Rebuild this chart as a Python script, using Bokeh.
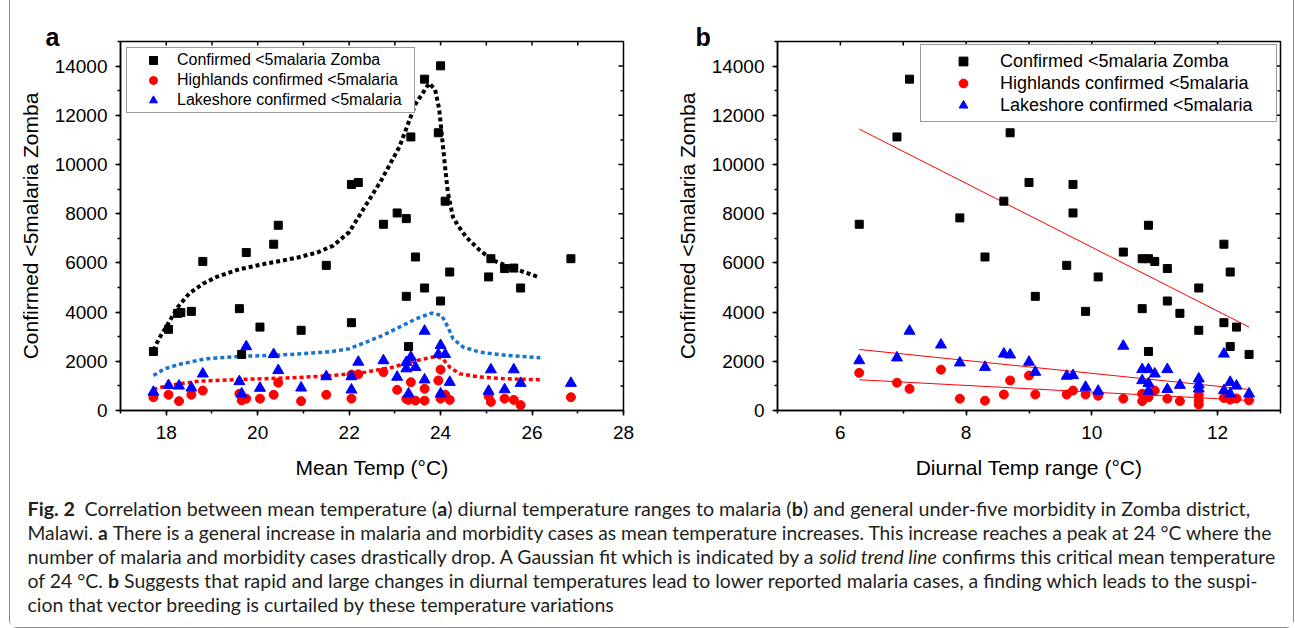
import os
import glob
from bokeh.plotting import figure
from bokeh.models import (Range1d, SingleIntervalTicker, Legend, LegendItem, ColumnDataSource)
from bokeh.layouts import column, row
from bokeh.core.properties import value
from bokeh.embed import file_html
from bokeh.resources import INLINE

# ---------------- data: panel a (mean temperature) ----------------
a_zomba_x = [17.72, 18.05, 18.25, 18.32, 18.55, 18.8, 19.6, 19.65, 19.75, 20.05, 20.35, 20.45,
             20.95, 21.5, 22.05, 22.05, 22.2, 22.75, 23.05, 23.25, 23.25, 23.3, 23.35, 23.45,
             23.65, 23.65, 23.95, 24.0, 24.0, 24.1, 24.2, 25.05, 25.1, 25.4, 25.6, 25.75, 26.85]
a_zomba_y = [2400, 3300, 3950, 3980, 4030, 6060, 4140, 2280, 6420, 3390, 6760, 7530,
             3260, 5900, 3570, 9190, 9270, 7570, 8030, 7800, 4640, 2600, 11120, 6240,
             4980, 13470, 11290, 14010, 4450, 8510, 5630, 5430, 6170, 5770, 5790, 4980, 6170]

a_high_x = [17.72, 18.05, 18.28, 18.55, 18.8, 19.6, 19.65, 19.75, 20.05, 20.35, 20.45, 20.95,
            21.5, 22.05, 22.05, 22.2, 22.75, 23.05, 23.25, 23.3, 23.35, 23.45, 23.65, 23.65,
            23.95, 24.0, 24.0, 24.1, 24.2, 25.05, 25.1, 25.4, 25.6, 25.75, 26.85]
a_high_y = [540, 640, 380, 640, 810, 680, 410, 480, 480, 640, 1130, 380,
            640, 480, 1460, 1470, 1560, 840, 470, 430, 1150, 400, 880, 400,
            1220, 1660, 480, 640, 430, 590, 350, 480, 430, 220, 540]

a_lake_x = [17.72, 18.05, 18.28, 18.55, 18.8, 19.6, 19.65, 19.75, 20.05, 20.35, 20.45, 20.95,
            21.5, 22.05, 22.05, 22.2, 22.75, 23.05, 23.25, 23.25, 23.3, 23.35, 23.45, 23.65,
            23.65, 23.95, 24.0, 24.0, 24.1, 24.2, 25.05, 25.1, 25.4, 25.6, 25.75, 26.85]
a_lake_y = [750, 1020, 1000, 920, 1490, 1180, 680, 2600, 910, 2280, 1630, 920,
            1380, 1380, 840, 1970, 2030, 1360, 1700, 1960, 680, 2170, 1760, 3230,
            1250, 2280, 2650, 680, 2280, 1150, 790, 1660, 850, 1660, 1110, 1110]

# fitted curves
fit_zomba_x = [17.72, 17.85, 18.0, 18.25, 18.5, 18.8, 19.1, 19.6, 20.2, 20.5, 20.9, 21.3, 21.65,
               22.0, 22.35, 22.7, 23.1, 23.45, 23.75, 23.88, 23.97, 24.03, 24.09, 24.16, 24.27,
               24.37, 24.56, 24.86, 25.15, 25.6, 26.15]
fit_zomba_y = [2450, 2950, 3400, 4200, 4750, 5150, 5430, 5740, 5980, 6080, 6230, 6420, 6700,
               7250, 8300, 9350, 10720, 12450, 13300, 13050, 12250, 11150, 10050, 8850, 7870,
               7550, 7050, 6510, 6100, 5770, 5420]
fit_lake_x = [17.72, 17.97, 18.34, 18.85, 19.58, 20.31, 20.9, 21.34, 21.63, 22.0, 22.37, 22.73,
              23.1, 23.47, 23.8, 24.02, 24.16, 24.27, 24.49, 24.86, 25.44, 26.18]
fit_lake_y = [1425, 1700, 1900, 2100, 2200, 2240, 2300, 2360, 2400, 2510, 2780, 3050,
              3390, 3730, 3960, 3870, 3390, 2920, 2580, 2370, 2240, 2140]
fit_high_x = [17.72, 18.04, 18.7, 19.58, 20.9, 21.63, 22.37, 22.95, 23.47, 23.9, 24.05, 24.2,
              24.42, 24.86, 25.44, 26.18]
fit_high_y = [855, 1020, 1190, 1260, 1340, 1420, 1560, 1760, 2030, 2200, 2100, 1760,
              1490, 1360, 1290, 1250]

# ---------------- data: panel b (diurnal temperature range) ----------------
b_zomba_x = [6.3, 6.9, 7.1, 7.9, 8.3, 8.6, 8.7, 9.0, 9.1, 9.6, 9.7, 9.7, 9.9, 10.1, 10.5,
             10.8, 10.8, 10.9, 10.9, 10.9, 11.0, 11.2, 11.2, 11.4, 11.7, 11.7, 12.1, 12.1,
             12.2, 12.2, 12.3, 12.5]
b_zomba_y = [7570, 11120, 13470, 7830, 6240, 8510, 11290, 9270, 4640, 5900, 9190, 8030, 4030,
             5430, 6440, 6170, 4140, 6170, 7530, 2400, 6060, 5770, 4450, 3950, 4980, 3260,
             6760, 3570, 5630, 2600, 3390, 2280]
b_high_x = [6.3, 6.9, 7.1, 7.6, 7.9, 8.3, 8.6, 8.7, 9.0, 9.1, 9.6, 9.7, 9.9, 10.1, 10.5, 10.8,
            10.8, 10.9, 10.9, 11.0, 11.2, 11.4, 11.7, 11.7, 11.7, 12.1, 12.2, 12.3, 12.5]
b_high_y = [1530, 1130, 880, 1660, 480, 400, 650, 1220, 1420, 650, 650, 810, 650, 600, 480, 680,
            380, 540, 700, 810, 480, 380, 610, 400, 240, 510, 440, 490, 410]
b_lake_x = [6.3, 6.9, 7.1, 7.6, 7.9, 8.3, 8.6, 8.7, 9.0, 9.1, 9.6, 9.7, 9.9, 10.1, 10.5, 10.8,
            10.9, 11.0, 10.8, 10.9, 10.9, 11.2, 11.2, 11.4, 11.7, 11.7, 11.7, 12.1, 12.1, 12.2,
            12.2, 12.3, 12.5]
b_lake_y = [2030, 2145, 3230, 2670, 1940, 1760, 2300, 2265, 1970, 1560, 1400, 1425, 950, 790,
            2620, 1670, 1670, 1490, 1220, 1100, 790, 1670, 860, 1030, 1290, 1050, 880, 2300, 810,
            1150, 680, 1000, 680]

# linear trend lines (end points)
trend_x = [6.3, 12.5]
trend_zomba = [11440, 3390]
trend_lake = [2480, 855]
trend_high = [1250, 410]

# tick values
a_xticks = list(range(17, 29))
b_xticks = list(range(5, 14))
yticks = list(range(0, 15001, 1000))

series_labels = ["Confirmed <5malaria Zomba", "Highlands confirmed <5malaria",
                 "Lakeshore confirmed <5malaria"]
xlabel_a = "Mean Temp (°C)"
xlabel_b = "Diurnal Temp range (°C)"
ylabel = "Confirmed <5malaria Zomba"

caption_lines = [
    [("b", "Fig. 2  "), ("r", "Correlation between mean temperature ("), ("b", "a"),
     ("r", ") diurnal temperature ranges to malaria ("), ("b", "b"),
     ("r", ") and general under-five morbidity in Zomba district,")],
    [("r", "Malawi. "), ("b", "a"),
     ("r", " There is a general increase in malaria and morbidity cases as mean temperature increases. This increase reaches a peak at 24 °C where the")],
    [("r", "number of malaria and morbidity cases drastically drop. A Gaussian fit which is indicated by a "),
     ("i", "solid trend line"), ("r", " confirms this critical mean temperature")],
    [("r", "of 24 °C. "), ("b", "b"),
     ("r", " Suggests that rapid and large changes in diurnal temperatures lead to lower reported malaria cases, a finding which leads to the suspi-")],
    [("r", "cion that vector breeding is curtailed by these temperature variations")],
]

FONT = "Liberation Sans"
BLACK = "#000000"
RED = "#ff0000"
BLUE = "#0000ff"
CURVE_BLUE = "#1874cd"

PANEL_H = 482
FRAME_W = 503
FRAME_H = 369
YMAX = 15000


def style_axis(ax, interval, label, tick_standoff, label_standoff):
    ax.ticker = SingleIntervalTicker(interval=interval, num_minor_ticks=2)
    ax.axis_label = label
    ax.axis_label_text_font = FONT
    ax.axis_label_text_font_size = "21px"
    ax.axis_label_text_font_style = "normal"
    ax.axis_label_text_color = BLACK
    ax.axis_label_standoff = label_standoff
    ax.major_label_text_font = FONT
    ax.major_label_text_font_size = "19px"
    ax.major_label_text_color = BLACK
    ax.major_label_standoff = tick_standoff
    ax.major_tick_out = 5
    ax.major_tick_in = 0
    ax.minor_tick_out = 3
    ax.minor_tick_in = 0
    for attr in ("axis_line", "major_tick_line", "minor_tick_line"):
        setattr(ax, attr + "_color", BLACK)
        setattr(ax, attr + "_width", 1.5)


def make_panel(xr, xticks, xlabel, width, left, right, letter, letter_offset):
    p = figure(width=width, height=PANEL_H, x_range=Range1d(*xr), y_range=Range1d(0, YMAX),
               output_backend="svg", toolbar_location=None, title=letter,
               min_border_left=left, min_border_right=right,
               min_border_top=41, min_border_bottom=PANEL_H - 41 - FRAME_H)
    p.outline_line_color = BLACK
    p.outline_line_width = 1.5
    p.xgrid.visible = False
    p.ygrid.visible = False
    p.background_fill_color = "white"
    p.border_fill_color = "white"
    style_axis(p.xaxis[0], 2, xlabel, 10, 14)
    style_axis(p.yaxis[0], 2000, ylabel, 8, 10)

    # panel letter as a left-aligned title shifted into the left margin
    t = p.title
    t.text_font = FONT
    t.text_font_style = "bold"
    t.text_font_size = "25px"
    t.text_color = BLACK
    t.align = "left"
    t.vertical_align = "bottom"
    t.offset = letter_offset
    try:
        t.standoff = -18
    except Exception:
        t.standoff = 0

    # mirrored inward ticks on the top and right edges of the frame
    px_x = (xr[1] - xr[0]) / FRAME_W
    px_y = YMAX / FRAME_H
    inner = [v for v in xticks if xr[0] < v < xr[1]]
    p.segment(x0=inner, y0=[YMAX] * len(inner), x1=inner,
              y1=[YMAX - 4 * px_y] * len(inner), line_color=BLACK, line_width=1.5)
    ys = [v for v in yticks if 0 < v < YMAX]
    p.segment(x0=[xr[1]] * len(ys), y0=ys,
              x1=[xr[1] - (5 if v % 2000 == 0 else 3) * px_x for v in ys], y1=ys,
              line_color=BLACK, line_width=1.5)
    return p


def add_points(p, zx, zy, hx, hy, lx, ly, legend_kw, legend_font):
    r1 = p.scatter(zx, zy, marker="square", size=8, fill_color=BLACK, line_color=BLACK)
    r2 = p.scatter(hx, hy, marker="circle", size=9, fill_color=RED, line_color=RED)
    r3 = p.scatter(lx, ly, marker="triangle", size=11, fill_color=BLUE, line_color=BLUE)
    legend = Legend(items=[LegendItem(label=series_labels[0], renderers=[r1]),
                           LegendItem(label=series_labels[1], renderers=[r2]),
                           LegendItem(label=series_labels[2], renderers=[r3])],
                    label_text_font=FONT, label_text_font_size=legend_font,
                    label_text_color=BLACK, border_line_color="#333333",
                    border_line_width=1, background_fill_color="white",
                    background_fill_alpha=1.0, spacing=0, **legend_kw)
    p.add_layout(legend)


# ---------------- panel a ----------------
pa = make_panel((17, 28), a_xticks, xlabel_a, 638, 110, 25, "a", -75)
pa.line(fit_zomba_x, fit_zomba_y, line_color=BLACK, line_width=4, line_dash="4 3")
pa.line(fit_lake_x, fit_lake_y, line_color=CURVE_BLUE, line_width=3.5, line_dash="4 3")
pa.line(fit_high_x, fit_high_y, line_color=RED, line_width=3.5, line_dash="4 3")
add_points(pa, a_zomba_x, a_zomba_y, a_high_x, a_high_y, a_lake_x, a_lake_y,
           dict(location="top_left", margin=6, padding=2, label_height=20, glyph_height=20,
                glyph_width=48, label_standoff=0, label_width=235), "16px")

# ---------------- panel b ----------------
pb = make_panel((5, 13), b_xticks, xlabel_b, 645, 129, 13, "b", -82)
pb.line(trend_x, trend_zomba, line_color=RED, line_width=1)
pb.line(trend_x, trend_lake, line_color=RED, line_width=1)
pb.line(trend_x, trend_high, line_color=RED, line_width=1)
add_points(pb, b_zomba_x, b_zomba_y, b_high_x, b_high_y, b_lake_x, b_lake_y,
           dict(location="top_right", margin=3, padding=5, label_height=22, glyph_height=22,
                glyph_width=74, label_standoff=0, label_width=271), "18px")

# ---------------- caption ----------------
CAP_W, CAP_H = 1283, 145


def find_font(fname):
    roots = ["/usr/share/fonts", "/usr/local/share/fonts",
             os.path.expanduser("~/.fonts"), os.path.expanduser("~/.local/share/fonts")]
    for r in roots:
        hits = glob.glob(os.path.join(r, "**", fname), recursive=True)
        if hits:
            return hits[0]
    return None


def measurer(fname, fallback_em):
    path = find_font(fname)
    if path:
        try:
            from PIL import ImageFont
            f = ImageFont.truetype(path, 200)
            return lambda s: f.getlength(s) / 200.0
        except Exception:
            pass
    return lambda s: len(s) * fallback_em


CAP_FONT = "Lato"
meas = {"r": measurer("Lato-Regular.ttf", 0.50),
        "b": measurer("Lato-Bold.ttf", 0.53),
        "i": measurer("Lato-Italic.ttf", 0.48)}

x0 = 17.0
# right ends of the justified lines in the reference (figure pixels)
targets = [1223, 1244, 1248, 1231]
sizes = []
for line, tgt in zip(caption_lines[:4], targets):
    em = sum(meas[s](t) for s, t in line)
    sizes.append(tgt / em)
sizes.append(sum(sizes) / len(sizes))

baselines = [26, 50, 74, 98, 122]
segs = {k: dict(x=[], y=[], t=[], fs=[]) for k in ("r", "b", "i")}
for line, yb, fs in zip(caption_lines, baselines, sizes):
    cur = x0
    for s, t in line:
        lead = len(t) - len(t.lstrip(" "))
        segs[s]["x"].append(cur + meas[s](" " * lead) * fs)
        segs[s]["y"].append(yb)
        segs[s]["t"].append(t.strip(" "))
        segs[s]["fs"].append(f"{fs:.2f}px")
        cur += meas[s](t) * fs

cap = figure(width=CAP_W, height=CAP_H, x_range=Range1d(0, CAP_W), y_range=Range1d(CAP_H, 0),
             x_axis_location=None, y_axis_location=None, toolbar_location=None,
             output_backend="svg", min_border=0, outline_line_color=None)
cap.grid.visible = False
style_map = {"r": "normal", "b": "bold", "i": "italic"}
for s, d in segs.items():
    src = ColumnDataSource(data=d)
    cap.text(x="x", y="y", text="t", source=src, text_font=value(CAP_FONT),
             text_font_size="fs", text_font_style=value(style_map[s]),
             text_baseline=value("alphabetic"), text_align=value("left"),
             text_color="#231f20")

border = "1px solid #8a8a8a"
layout = column(row(pa, pb), cap, margin=(0, 0, 0, 9),
                styles={"border-left": border, "border-right": border,
                        "border-bottom": border,
                        "border-bottom-left-radius": "8px",
                        "border-bottom-right-radius": "8px"})

open("out.html", "w").write(file_html(layout, INLINE))
